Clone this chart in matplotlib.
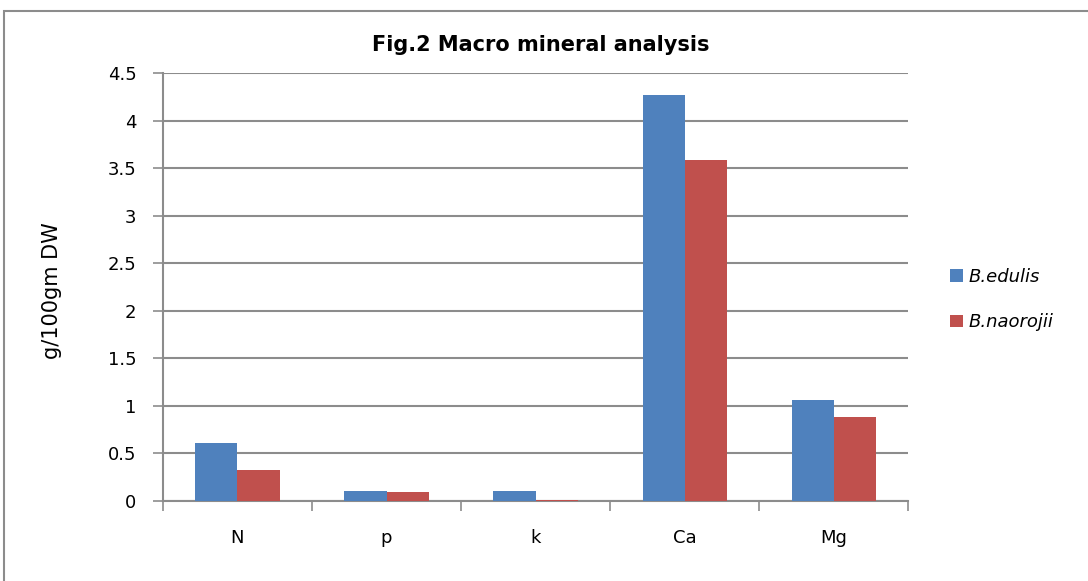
import matplotlib.pyplot as plt
import matplotlib.patches as mpatches
import numpy as np

# Macro mineral content (g/100gm DW)
minerals = ['N', 'p', 'k', 'Ca', 'Mg']
edulis = [0.61, 0.10, 0.11, 4.27, 1.06]
naorojii = [0.33, 0.09, 0.015, 3.59, 0.88]
series_names = ['B.edulis', 'B.naorojii']

plt.rcParams['font.family'] = ['DejaVu Sans']

fig = plt.figure(figsize=(10.88, 5.81), dpi=100)
ax = fig.add_axes([0.1498, 0.1377, 0.6848, 0.7367])

# outer chart frame
fig.patches.append(mpatches.Rectangle((4 / 1088, -0.05), 1.0, 1.05 - 11 / 581,
                                      transform=fig.transFigure, fill=False,
                                      edgecolor='#8c8c8c', linewidth=1.5))

x = np.arange(len(minerals))
width = 0.282
ax.bar(x - width / 2, edulis, width, color='#4F81BD', label=series_names[0], zorder=3)
ax.bar(x + width / 2, naorojii, width, color='#C0504D', label=series_names[1], zorder=3)

ax.set_xlim(-0.5, len(minerals) - 0.5)
ax.set_ylim(0, 4.5)
yt = np.arange(0, 4.51, 0.5)
ax.set_yticks(yt)
ax.set_yticklabels(['0', '0.5', '1', '1.5', '2', '2.5', '3', '3.5', '4', '4.5'], fontsize=13)
ax.yaxis.grid(True, color='#8c8c8c', linewidth=1.5, zorder=0)

ax.set_xticks(x)
ax.set_xticklabels(minerals, fontsize=13)
ax.set_xticks(np.arange(-0.5, len(minerals)), minor=True)
ax.tick_params(axis='x', which='major', length=0, pad=20)
ax.tick_params(axis='x', which='minor', length=7, color='#8c8c8c', width=1.2)
ax.tick_params(axis='y', length=7, color='#8c8c8c', width=1.2, pad=12)

for s in ['top', 'right']:
    ax.spines[s].set_visible(False)
for s in ['left', 'bottom']:
    ax.spines[s].set_color('#8c8c8c')
    ax.spines[s].set_linewidth(1.5)

fig.text(52 / 1088, 1 - 291 / 581, 'g/100gm DW', rotation=90, ha='center', va='center',
         fontsize=15)
fig.text(541 / 1088, 1 - 45 / 581, 'Fig.2 Macro mineral analysis', ha='center', va='center',
         fontsize=15, fontweight='bold')

fig.legend(loc='center left', bbox_to_anchor=(950 / 1088, 1 - 299.5 / 581), frameon=False,
           prop={'style': 'italic', 'size': 13}, handlelength=0.7, handleheight=0.7,
           labelspacing=1.55, handletextpad=0.35, borderpad=0, borderaxespad=0)

fig.savefig('out.png', dpi=100)
